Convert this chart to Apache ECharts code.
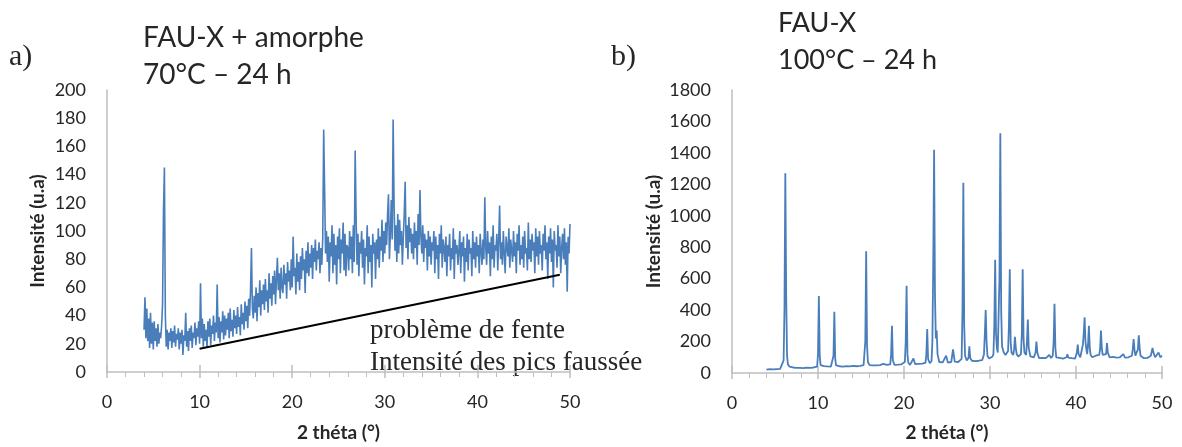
<!DOCTYPE html>
<html>
<head>
<meta charset="utf-8">
<script src="https://cdn.jsdelivr.net/npm/echarts@6/dist/echarts.min.js"></script>
<style>
  html, body { margin: 0; padding: 0; background: #fff; }
  #chart { width: 1182px; height: 447px; }
</style>
</head>
<body>
<div id="chart"></div>
<script>
var myChart = echarts.init(document.getElementById('chart'));

// a) FAU-X + amorphe, 70°C - 24 h : intensities from 4.0° every 0.1°
var startA = 4.0, stepA = 0.1;
var intensA = [
  30,53,24,45,22,38,17,42,20,35,
  16,36,22,31,18,34,20,28,24,33,
  48,114,145,40,18,30,16,28,22,31,
  17,29,21,33,18,27,23,31,16,28,
  20,30,12,26,22,42,18,29,15,31,
  22,33,17,28,24,35,19,31,25,36,
  20,63,24,38,18,34,22,30,17,36,
  25,38,19,33,27,40,22,35,28,62,
  24,39,21,36,28,43,23,40,26,38,
  30,42,24,45,29,37,25,44,31,40,
  27,46,32,39,26,48,34,42,30,50,
  36,47,31,52,40,58,88,45,38,54,
  42,60,36,56,46,65,40,58,48,62,
  44,66,50,58,42,70,52,63,47,68,
  55,72,48,66,81,58,70,52,74,60,
  56,76,62,70,52,78,64,72,58,80,
  60,96,68,74,55,84,64,78,58,82,
  66,88,72,80,56,86,70,92,68,84,
  74,90,66,88,78,94,72,86,80,92,
  70,88,76,95,172,130,84,100,78,96,
  64,92,82,104,70,98,76,90,62,96,
  80,102,70,94,84,106,72,98,68,90,
  88,72,100,80,96,70,104,78,157,110,
  76,98,68,92,84,100,74,94,62,88,
  82,104,70,96,78,90,60,98,84,92,
  66,94,80,102,74,96,86,108,78,100,
  84,106,90,112,126,80,98,122,94,179,
  120,86,104,78,112,84,108,90,100,76,
  96,112,135,88,104,80,110,92,102,84,
  98,80,106,88,100,76,112,90,129,96,
  84,104,78,98,88,94,72,100,82,96,
  76,92,86,100,70,96,80,90,66,98,
  84,104,74,94,88,78,96,68,90,82,
  98,72,88,80,102,66,94,84,90,76,
  86,100,70,92,82,96,64,88,78,98,
  72,94,84,88,68,100,80,92,74,96,
  82,90,70,98,86,76,94,80,124,88,
  76,100,84,92,68,96,80,104,74,90,
  86,98,72,94,118,80,92,76,100,84,
  70,96,88,82,102,74,94,86,78,100,
  82,92,70,98,86,104,76,90,80,96,
  74,100,84,88,72,106,80,94,78,98,
  86,92,70,102,82,96,76,100,84,90,
  72,98,86,104,80,92,66,96,84,102,
  78,94,60,100,86,90,74,104,82,96,
  70,88,98,80,102,76,92,57,96,84,
  105
];

// straight line drawn under pattern a) ("problème de fente")
var slitLine = [[10, 16.5], [48.9, 69]];

// b) FAU-X, 100°C - 24 h : [2θ, intensité]
var patternB = [
  [4.0,22],[4.2,28],[4.4,24],[4.6,30],[4.8,23],[5.0,29],[5.2,25],[5.4,31],[5.6,26],[5.8,36],
  [6.0,80],[6.1,400],[6.2,1270],[6.3,500],[6.4,110],[6.5,55],[6.7,40],[6.9,30],[7.1,35],[7.3,27],
  [7.5,33],[7.7,26],[7.9,32],[8.1,25],[8.3,31],[8.5,27],[8.7,34],[8.9,28],[9.1,33],[9.3,29],
  [9.5,35],[9.7,31],[9.9,40],[10.0,120],[10.1,490],[10.2,110],[10.3,50],[10.5,38],[10.7,44],[10.9,36],
  [11.1,42],[11.3,35],[11.5,41],[11.7,45],[11.8,110],[11.9,390],[12.0,90],[12.1,48],[12.3,38],[12.5,43],
  [12.7,35],[12.9,41],[13.1,37],[13.3,44],[13.5,36],[13.7,42],[13.9,38],[14.1,45],[14.3,39],[14.5,43],
  [14.7,37],[14.9,46],[15.1,41],[15.3,50],[15.4,60],[15.5,200],[15.6,775],[15.7,180],[15.8,70],[16.0,50],
  [16.2,44],[16.4,49],[16.6,42],[16.8,48],[17.0,43],[17.2,50],[17.4,46],[17.6,58],[17.8,47],[18.0,52],
  [18.2,45],[18.4,55],[18.5,120],[18.6,300],[18.7,80],[18.9,52],[19.1,46],[19.3,53],[19.5,47],[19.7,55],
  [19.9,50],[20.1,70],[20.2,200],[20.3,555],[20.4,120],[20.5,65],[20.7,52],[20.9,58],[21.1,92],[21.3,56],
  [21.5,50],[21.7,58],[21.9,53],[22.1,60],[22.3,55],[22.5,65],[22.6,120],[22.7,280],[22.8,90],[23.0,62],
  [23.2,75],[23.3,200],[23.4,700],[23.5,1420],[23.6,500],[23.7,220],[23.8,270],[23.9,120],[24.1,70],[24.3,62],
  [24.5,68],[24.7,60],[24.9,110],[25.1,66],[25.3,60],[25.5,70],[25.7,150],[25.9,72],[26.1,64],[26.3,70],
  [26.5,66],[26.7,90],[26.8,400],[26.9,1210],[27.0,300],[27.1,110],[27.3,80],[27.5,95],[27.6,170],[27.7,95],
  [27.9,78],[28.1,85],[28.3,76],[28.5,84],[28.7,78],[28.9,88],[29.1,82],[29.3,120],[29.4,250],[29.5,400],
  [29.6,200],[29.7,110],[29.9,92],[30.1,100],[30.3,105],[30.4,120],[30.5,300],[30.6,720],[30.7,250],[30.8,160],
  [30.9,130],[31.0,140],[31.1,600],[31.2,1525],[31.3,400],[31.4,170],[31.6,130],[31.8,115],[32.0,110],[32.1,140],
  [32.2,300],[32.3,660],[32.4,200],[32.5,130],[32.7,115],[32.8,150],[32.9,230],[33.0,160],[33.1,120],[33.3,105],
  [33.5,100],[33.6,120],[33.7,250],[33.8,660],[33.9,220],[34.0,130],[34.2,115],[34.3,200],[34.4,340],[34.5,160],
  [34.7,105],[34.9,95],[35.1,100],[35.3,130],[35.4,200],[35.5,130],[35.7,95],[35.9,88],[36.1,96],[36.3,86],
  [36.5,94],[36.7,90],[36.9,115],[37.1,95],[37.3,110],[37.4,200],[37.5,440],[37.6,160],[37.7,100],[37.9,90],
  [38.1,96],[38.3,86],[38.5,92],[38.7,88],[38.9,100],[39.0,120],[39.1,98],[39.3,88],[39.5,94],[39.7,100],
  [39.9,92],[40.1,130],[40.2,180],[40.3,120],[40.5,100],[40.7,110],[40.8,180],[40.9,250],[41.0,355],[41.1,200],
  [41.2,150],[41.3,120],[41.4,180],[41.5,300],[41.6,160],[41.7,115],[41.9,100],[42.1,96],[42.3,110],[42.5,100],
  [42.7,115],[42.8,150],[42.9,270],[43.0,160],[43.1,115],[43.3,105],[43.5,120],[43.6,190],[43.7,130],[43.9,100],
  [44.1,94],[44.3,102],[44.5,90],[44.7,98],[44.9,92],[45.1,100],[45.3,105],[45.5,120],[45.7,98],[45.9,92],
  [46.1,100],[46.3,95],[46.5,110],[46.6,150],[46.7,215],[46.8,150],[46.9,110],[47.1,120],[47.2,150],[47.3,240],
  [47.4,160],[47.5,110],[47.7,100],[47.9,94],[48.1,102],[48.3,96],[48.5,100],[48.7,110],[48.9,160],[49.0,130],
  [49.2,100],[49.4,108],[49.6,130],[49.8,100],[50.0,110]
];

var dataA = intensA.map(function (v, i) {
    return [+(startA + i * stepA).toFixed(1), v];
});

var blue = '#4a7ebb';
var axisGrey = '#bfbfbf';
var txt = '#262626';
var sans = 'Lato, "Open Sans", sans-serif';
var serif = '"Liberation Serif", "DejaVu Serif", serif';

function xAx(grid, gap) {
    return {
        type: 'value', gridIndex: grid, min: 0, max: 50, interval: 10, position: 'bottom',
        name: '2 théta (°)', nameLocation: 'middle', nameGap: gap,
        nameTextStyle: { fontFamily: sans, fontWeight: 'bold', fontSize: 19, color: txt },
        axisLine: { lineStyle: { color: axisGrey, width: 1.5 } },
        axisTick: { show: true, length: 6, lineStyle: { color: axisGrey, width: 1.5 } },
        minorTick: { show: true, splitNumber: 5, length: 5, lineStyle: { color: axisGrey } },
        axisLabel: { fontFamily: sans, fontSize: 18, color: txt, margin: 21 },
        splitLine: { show: false }
    };
}
// upper half of the major ticks (they cross the axis line)
function xAxInner(grid) {
    return {
        type: 'value', gridIndex: grid, min: 0, max: 50, interval: 10, position: 'bottom',
        axisLine: { show: false },
        axisTick: { show: true, inside: true, length: 7, lineStyle: { color: axisGrey, width: 1.5 } },
        axisLabel: { show: false }, splitLine: { show: false }
    };
}
function yAx(grid, max, interval, gap) {
    return {
        type: 'value', gridIndex: grid, min: 0, max: max, interval: interval,
        name: 'Intensité (u.a)', nameLocation: 'middle', nameGap: gap,
        nameTextStyle: { fontFamily: sans, fontWeight: 'bold', fontSize: 19, color: txt },
        axisLine: { show: true, lineStyle: { color: axisGrey, width: 1.5 } },
        axisTick: { show: false },
        axisLabel: { fontFamily: sans, fontSize: 18, color: txt, margin: 21,
            formatter: function (v) { return String(v); } },
        splitLine: { show: false }
    };
}

var option = {
    animation: false,
    grid: [
        { left: 107, top: 90, width: 463, height: 287 },
        { left: 732, top: 90, width: 430, height: 288 }
    ],
    xAxis: [xAx(0, 51), xAx(1, 50), xAxInner(0), xAxInner(1)],
    yAxis: [yAx(0, 200, 20, 60), yAx(1, 1800, 200, 69)],
    graphic: [
        { type: 'text', left: 9, top: 42, style: { text: 'a)', font: '30px ' + serif, fill: txt } },
        { type: 'text', left: 143, top: 24, style: { text: 'FAU-X + amorphe', font: '28px ' + sans, fill: txt } },
        { type: 'text', left: 143, top: 61, style: { text: '70°C – 24 h', font: '28px ' + sans, fill: txt } },
        { type: 'text', left: 611, top: 42, style: { text: 'b)', font: '30px ' + serif, fill: txt } },
        { type: 'text', left: 778, top: 10, style: { text: 'FAU-X', font: '27px ' + sans, fill: txt } },
        { type: 'text', left: 778, top: 47, style: { text: '100°C – 24 h', font: '27px ' + sans, fill: txt } },
        { type: 'text', left: 370, top: 317, style: { text: 'problème de fente', font: '27px ' + serif, fill: txt } },
        { type: 'text', left: 370, top: 349, style: { text: 'Intensité des pics faussée', font: '27px ' + serif, fill: txt } }
    ],
    series: [
        {
            type: 'line', xAxisIndex: 0, yAxisIndex: 0, data: dataA,
            showSymbol: false, lineStyle: { color: blue, width: 1.6 }, z: 3
        },
        {
            type: 'line', xAxisIndex: 0, yAxisIndex: 0, data: slitLine,
            showSymbol: false, lineStyle: { color: '#000', width: 2 }, z: 4
        },
        {
            type: 'line', xAxisIndex: 1, yAxisIndex: 1, data: patternB,
            showSymbol: false, lineStyle: { color: blue, width: 1.8 }, z: 3
        }
    ]
};

myChart.setOption(option);
</script>
</body>
</html>
